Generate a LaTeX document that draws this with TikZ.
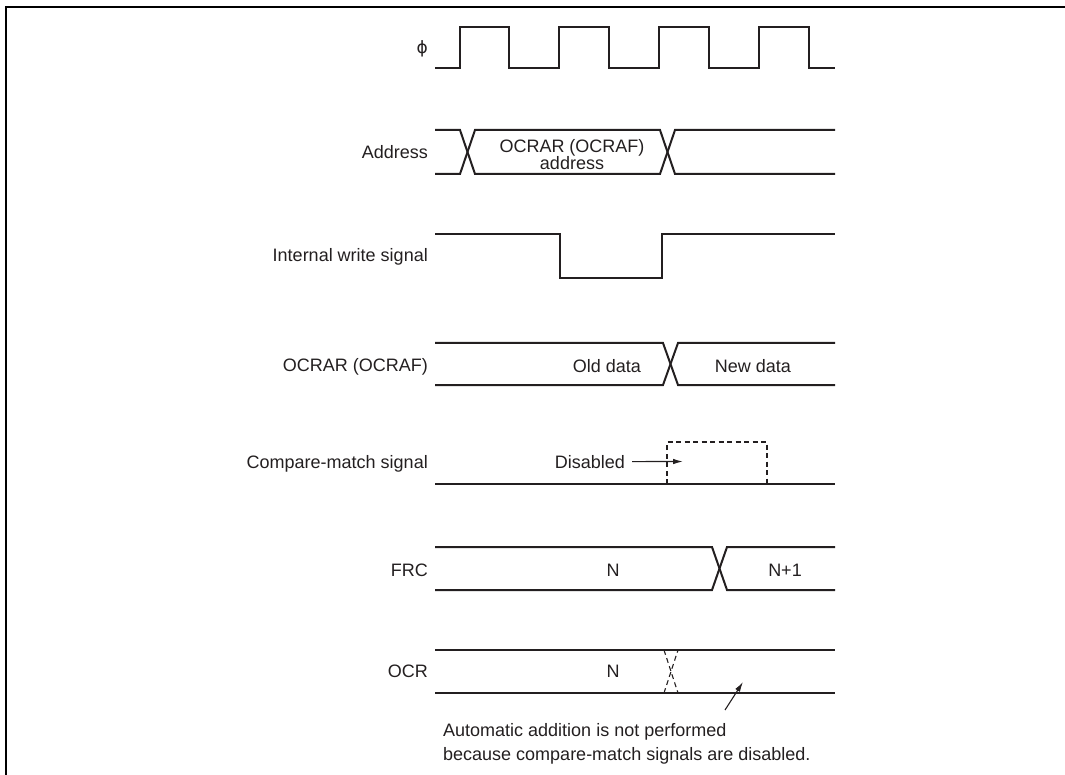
\documentclass[tikz,border=0pt]{standalone}
\usepackage{fontspec}
\setmainfont{Liberation Sans}
\newfontfamily\phifont{DejaVu Sans}
\usetikzlibrary{arrows.meta}
\definecolor{ink}{RGB}{35,31,32}
\begin{document}
\begin{tikzpicture}[x=1pt,y=-1pt,
  wave/.style={draw=ink,line width=2pt,line join=miter},
  lbl/.style={anchor=base east,text=ink,font=\fontsize{18}{21}\selectfont,inner sep=0pt},
  txt/.style={anchor=base,text=ink,font=\fontsize{18}{21}\selectfont,inner sep=0pt},
  dsh/.style={draw=ink,line width=1.1pt,dash pattern=on 5pt off 3.5pt},
  pointer/.style={draw=ink,line width=1.1pt,-{Latex[length=10pt,width=5.5pt]}},
  frame/.style={draw=black,line width=2pt}]
\useasboundingbox (0,0) rectangle (1065,775);
\draw[frame] (6,777) -- (6,7) -- (1067,7);

% phi clock
\node[anchor=east,text=ink,inner sep=0pt,font=\phifont\fontsize{17}{20}\selectfont] (lphi) at (428,49) {ϕ};
\draw[wave] (435,68) -- (460,68) -- (460,27) -- (509,27) -- (509,68) -- (559,68) -- (559,27)
  -- (609,27) -- (609,68) -- (659,68) -- (659,27) -- (709,27) -- (709,68) -- (759,68)
  -- (759,27) -- (809,27) -- (809,68) -- (835,68);

% Address
\node[lbl] (laddr) at (428,159) {Address};
\draw[wave] (435,130) -- (460,130) -- (475,174) -- (660,174) -- (675,130) -- (835,130);
\draw[wave] (435,174) -- (460,174) -- (475,130) -- (660,130) -- (675,174) -- (835,174);
\node[txt] (taddr1) at (572,153) {OCRAR (OCRAF)};
\node[txt] (taddr2) at (572,170) {address};

% Internal write signal
\node[lbl] (lwr) at (428,262) {Internal write signal};
\draw[wave] (435,234) -- (560,234) -- (560,278) -- (662,278) -- (662,234) -- (835,234);

% OCRAR (OCRAF)
\node[lbl] (locrar) at (428,371) {OCRAR (OCRAF)};
\draw[wave] (435,343) -- (663,343) -- (678,385) -- (835,385);
\draw[wave] (435,385) -- (663,385) -- (678,343) -- (835,343);
\node[txt] (old) at (607,372) {Old data};
\node[txt] (new) at (753,372) {New data};

% Compare-match signal
\node[lbl] (lcm) at (428,468) {Compare-match signal};
\draw[wave] (435,484) -- (835,484);
\draw[dsh] (667,484) -- (667,442) -- (767,442) -- (767,484);
\node[lbl] (dis) at (625,468) {Disabled};
\coordinate (distip) at (683,461.5);
\draw[pointer] ([xshift=7pt]dis.east) -- (distip);

% FRC
\node[lbl] (lfrc) at (428,576) {FRC};
\draw[wave] (435,547) -- (712,547) -- (727,590) -- (835,590);
\draw[wave] (435,590) -- (712,590) -- (727,547) -- (835,547);
\node[txt] (frcn) at (613,576) {N};
\node[txt] (frcn1) at (785,576) {N+1};

% OCR
\node[lbl] (locr) at (428,677) {OCR};
\draw[wave] (435,650) -- (835,650);
\draw[wave] (435,693) -- (835,693);
\draw[dsh] (664,650) -- (678,693);
\draw[dsh] (664,693) -- (678,650);
\node[txt] (ocrn) at (613,677) {N};

% note
\node[anchor=base west,text=ink,inner sep=0pt,align=left,font=\fontsize{18}{24}\selectfont] (note) at (443,760)
  {Automatic addition is not performed\\because compare-match signals are disabled.};
\coordinate (notefrom) at (725,710);
\coordinate (noteto) at (743,682);
\draw[pointer] (notefrom) -- (noteto);
\end{tikzpicture}
\end{document}
